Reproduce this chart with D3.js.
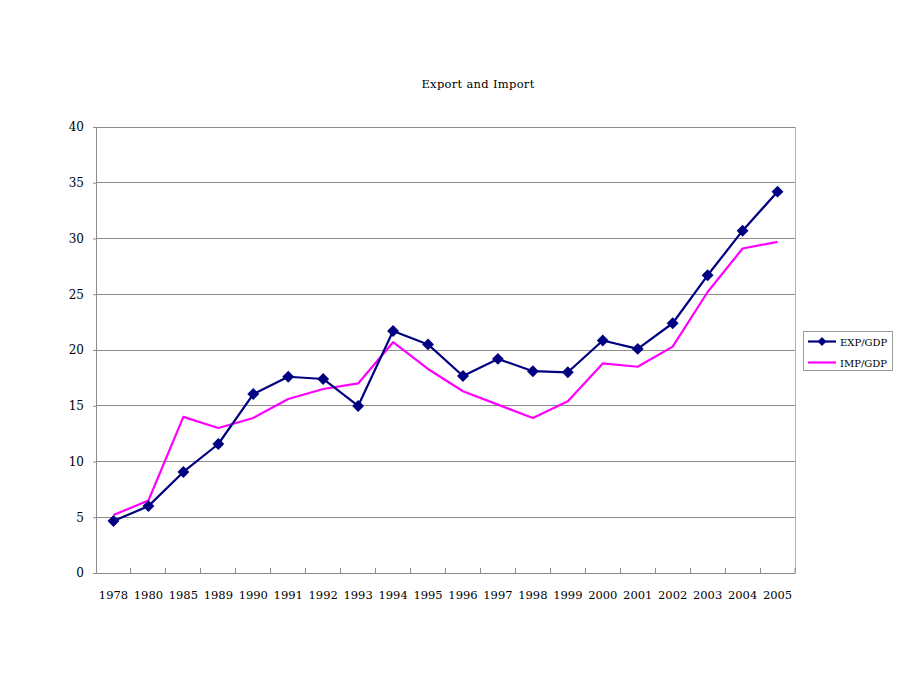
<!DOCTYPE html>
<html><head><meta charset="utf-8">
<script src="https://cdn.jsdelivr.net/npm/d3@7"></script>
<style>body{margin:0;background:#fff}svg{display:block}text{font-family:"DejaVu Serif","Liberation Serif",serif;fill:#000}</style>
</head><body><svg id="c" width="920" height="690"></svg>
<script>
const years=["1978","1980","1985","1989","1990","1991","1992","1993","1994","1995","1996","1997","1998","1999","2000","2001","2002","2003","2004","2005"];
const expGdp=[4.66,6.0,9.06,11.57,16.05,17.6,17.4,14.98,21.7,20.5,17.67,19.2,18.1,18.0,20.85,20.1,22.4,26.7,30.7,34.2];
const impGdp=[5.2,6.5,14.0,13.0,13.9,15.6,16.5,17.0,20.7,18.3,16.3,15.1,13.9,15.4,18.8,18.5,20.3,25.2,29.1,29.7];
const yTicks=[0,5,10,15,20,25,30,35,40];
const seriesNames=["EXP/GDP","IMP/GDP"];
const colors=["#000080","#FF00FF"];

const svg=d3.select("#c");
const L=96,R=795,T=127,B=573;
const x=d3.scaleBand().domain(years).range([L,R]).padding(0);
const y=d3.scaleLinear().domain([0,40]).range([B,T]);

// title
svg.append("text").attr("x",478).attr("y",88).attr("text-anchor","middle").attr("font-size",11.5).attr("letter-spacing",0.3).text("Export and Import");

// gridlines
svg.append("g").selectAll("line").data(yTicks.filter(d=>d>0)).join("line")
 .attr("x1",L).attr("x2",R).attr("y1",d=>y(d)).attr("y2",d=>y(d))
 .attr("stroke","#8c8c8c").attr("stroke-width",1).attr("shape-rendering","crispEdges");
// frame right
svg.append("line").attr("x1",R).attr("x2",R).attr("y1",T).attr("y2",B).attr("stroke","#b0b0b0").attr("shape-rendering","crispEdges");

// y axis
const ya=svg.append("g").attr("transform",`translate(${L},0)`).call(d3.axisLeft(y).tickValues(yTicks).tickSize(3).tickPadding(9));
ya.select(".domain").attr("stroke","#8c8c8c");
ya.selectAll(".tick line").attr("stroke","#8c8c8c");
ya.selectAll("text").attr("font-size",12).attr("font-family","DejaVu Serif");

// x axis
const xa=svg.append("g").attr("transform",`translate(0,${B})`).call(d3.axisBottom(x).tickSize(0).tickPadding(18));
xa.select(".domain").attr("stroke","#8c8c8c");
xa.selectAll("text").attr("font-size",11.5).attr("font-family","DejaVu Serif");
// inner tick marks at band boundaries
svg.append("g").selectAll("line").data(years.slice(1)).join("line")
 .attr("x1",d=>x(d)).attr("x2",d=>x(d)).attr("y1",B).attr("y2",B-5)
 .attr("stroke","#8c8c8c").attr("shape-rendering","crispEdges");
svg.append("line").attr("x1",R).attr("x2",R).attr("y1",B).attr("y2",B-5).attr("stroke","#8c8c8c");

const cx=d=>x(d)+x.bandwidth()/2;
const line=d3.line().x((d,i)=>cx(years[i])).y(d=>y(d));
svg.append("path").datum(impGdp).attr("d",line).attr("fill","none").attr("stroke",colors[1]).attr("stroke-width",2.2).attr("stroke-linejoin","round");
svg.append("path").datum(expGdp).attr("d",line).attr("fill","none").attr("stroke",colors[0]).attr("stroke-width",2.2).attr("stroke-linejoin","round");
const diamond=d3.symbol().type(d3.symbolDiamond2).size(90);
svg.append("g").selectAll("path").data(expGdp).join("path")
 .attr("d",diamond).attr("transform",(d,i)=>`translate(${cx(years[i])},${y(d)})`).attr("fill",colors[0]);

// legend
const lg=svg.append("g");
lg.append("rect").attr("x",803.5).attr("y",331.5).attr("width",89).attr("height",39).attr("fill","#fff").attr("stroke","#999");
seriesNames.forEach((n,i)=>{
  const yy=341.5+i*21;
  lg.append("line").attr("x1",808).attr("x2",836).attr("y1",yy).attr("y2",yy).attr("stroke",colors[i]).attr("stroke-width",2.2);
  if(i===0) lg.append("path").attr("d",d3.symbol().type(d3.symbolDiamond2).size(50)).attr("transform",`translate(822,${yy})`).attr("fill",colors[0]);
  lg.append("text").attr("x",840).attr("y",yy+4).attr("font-size",10).text(n);
});
</script></body></html>
